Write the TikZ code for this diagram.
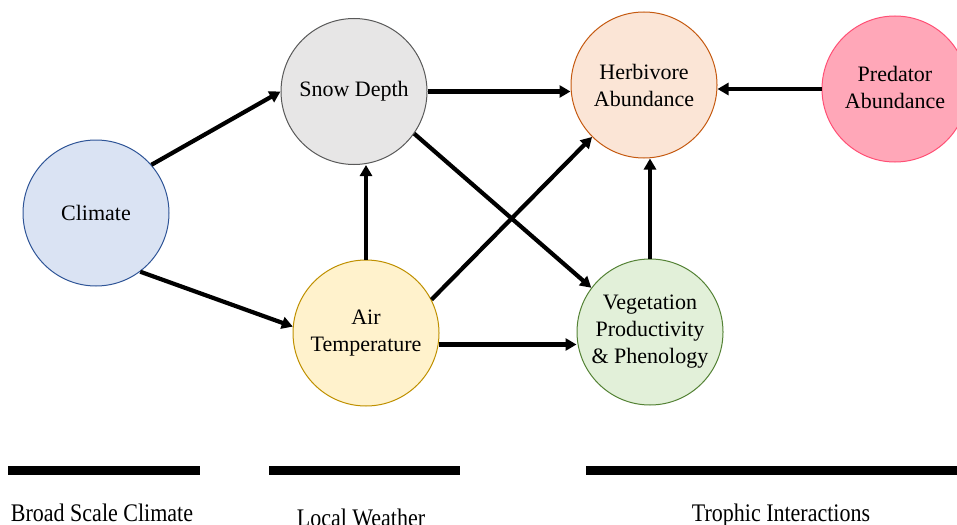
\documentclass[tikz,border=0pt]{standalone}
\usepackage{fontspec}
\setmainfont{Liberation Serif}
\usetikzlibrary{arrows.meta}
\definecolor{climfill}{HTML}{DAE3F3}
\definecolor{climdraw}{HTML}{2F5597}
\definecolor{snowfill}{HTML}{E7E6E6}
\definecolor{snowdraw}{HTML}{595959}
\definecolor{airfill}{HTML}{FFF2CC}
\definecolor{airdraw}{HTML}{BF9000}
\definecolor{herbfill}{HTML}{FBE5D6}
\definecolor{herbdraw}{HTML}{C55A11}
\definecolor{predfill}{HTML}{FFA7B8}
\definecolor{preddraw}{HTML}{FF5075}
\definecolor{vegfill}{HTML}{E2F0D9}
\definecolor{vegdraw}{HTML}{548235}
\begin{document}
\begin{tikzpicture}[x=1pt,y=-1pt,
  bubble/.style={circle, minimum size=146pt, inner sep=0pt, line width=1pt, align=center, font=\fontsize{22}{27}\selectfont},
  link/.style={line width=4.2pt, -{Triangle[length=11pt,width=12pt]}},
  lab/.style={font=\fontsize{22}{26}\selectfont, anchor=base, inner sep=0pt}]
\useasboundingbox (0,0) rectangle (957,524);
\clip (0,0) rectangle (957,524);

\node[bubble, fill=climfill, draw=climdraw] (clim) at (96,213) {Climate};
\node[bubble, fill=snowfill, draw=snowdraw] (snow) at (354,91.5) {\raisebox{-3pt}{Snow Depth}};
\node[bubble, fill=airfill, draw=airdraw] (air) at (366,333) {\raisebox{-2pt}{Air}\\\raisebox{-2pt}{Temperature}};
\node[bubble, fill=herbfill, draw=herbdraw] (herb) at (644,85) {\raisebox{-1.5pt}{Herbivore}\\\raisebox{-1.5pt}{Abundance}};
\node[bubble, fill=predfill, draw=preddraw] (pred) at (895,89) {\raisebox{2.5pt}{Predator}\\\raisebox{2.5pt}{Abundance}};
\node[bubble, fill=vegfill, draw=vegdraw] (veg) at (650,332) {\raisebox{-2pt}{Vegetation}\\\raisebox{-2pt}{Productivity}\\\raisebox{-2pt}{\& Phenology}};

\draw[link] (clim.41) -- (snow.180);
\draw[link] (clim.-53) -- (air.175);
\draw[link] (snow.east) -- (snow.east -| herb.west);
\draw[link] (air.north) -- (air.north |- snow.south);
\draw[link] (air.27) -- (herb.225);
\draw[link] (snow.-35) -- (veg.143);
\draw[link] (air.-9) -- (air.-9 -| veg.west);
\draw[link] (veg.north) -- (veg.north |- herb.south);
\draw[link] (pred.west) -- (pred.west -| herb.east);

\fill (8,466) rectangle (200,475);
\fill (269,466) rectangle (460,475);
\fill (586,466) rectangle (960,475);

\node[lab] (l1) at (102,521) {\scalebox{1}[1.15]{Broad Scale Climate}};
\node[lab] (l2) at (361,526) {\scalebox{1}[1.15]{Local Weather}};
\node[lab] (l3) at (781,521) {\scalebox{1}[1.15]{Trophic Interactions}};
\end{tikzpicture}
\end{document}
